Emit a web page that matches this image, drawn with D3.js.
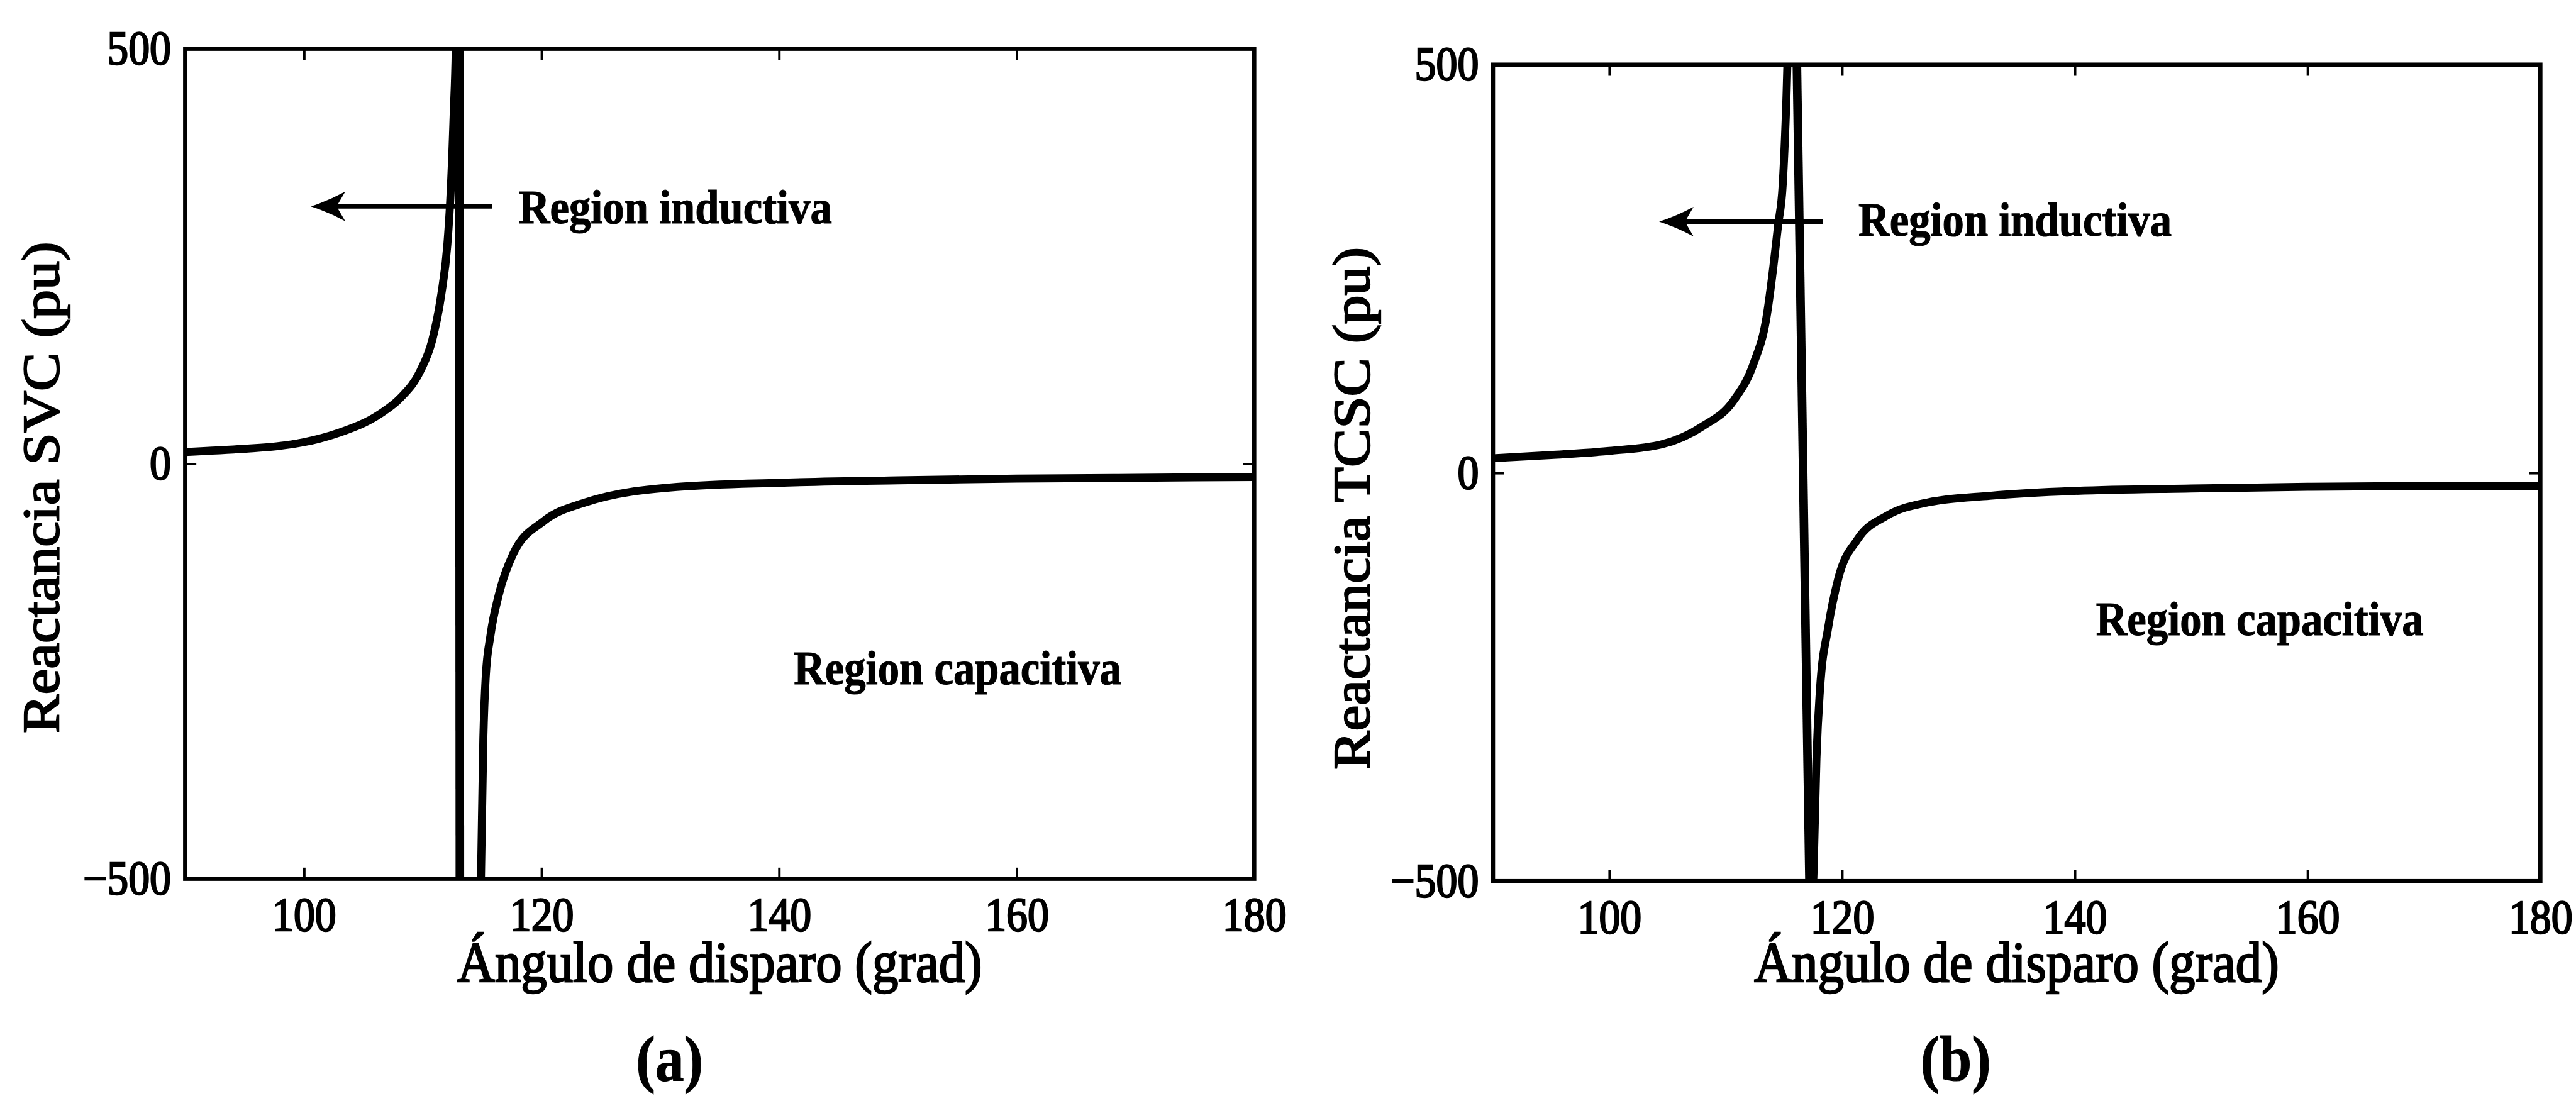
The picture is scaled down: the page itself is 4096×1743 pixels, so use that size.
<!DOCTYPE html>
<html>
<head>
<meta charset="utf-8">
<script src="https://cdn.jsdelivr.net/npm/d3@7"></script>
<style>
  html, body { margin: 0; padding: 0; background: #fff; overflow: hidden; }
  svg { display: block; }
  text { font-family: "Liberation Serif", "Times New Roman", serif; fill: #000; }
  .heavy { stroke: #000; stroke-width: 2.6px; }
  .heavy-s { stroke: #000; stroke-width: 1.2px; }
</style>
</head>
<body>
<svg id="fig"></svg>
<script>
// Firing angle (degrees) and reactance (pu), SVC
const svcAngle = [90, 95, 97.7, 100, 102.9, 106.4, 108.1, 109.8, 110.8, 111.55, 112.07, 112.3, 112.6, 112.8, 112.95,
                  113.25, 114.0, 114.5, 114.9, 115.1, 115.3, 115.7, 116.4, 117.6, 120.2, 123.6, 131.4, 140, 150, 160, 170, 180];
const svcReact = [14, 18, 21, 26, 37, 60, 79, 112, 149, 203, 264, 314, 420, 520, 3000,
                  -3000, -1100, -720, -500, -331, -257, -207, -158, -109, -69, -47, -28, -23, -20, -18, -17, -16];

// Firing angle (degrees) and reactance (pu), TCSC
const tcscAngle = [90, 95, 100, 104.5, 108.0, 110.7, 112.4, 113.5, 114.1, 114.5, 114.9, 115.2, 115.4, 116.0,
                   117.3, 117.55, 117.8, 118.1, 118.8, 119.7, 121.3, 123.9, 127.4, 132.7, 140, 150, 160, 170, 180];
const tcscReact = [18, 22, 27, 35, 57, 89, 134, 190, 253, 303, 353, 450, 540, 611,
                   -593, -490, -350, -266, -190, -128, -82, -52, -36, -28, -22, -19, -17, -16, -16];

const xTicks = [100, 120, 140, 160, 180];
const yTicks = [-500, 0, 500];
const xDomain = [90, 180];
const yDomain = [-500, 500];

const xTitle = "Ángulo de disparo (grad)";
const yTitles = ["Reactancia SVC (pu)", "Reactancia TCSC (pu)"];
const panelTags = ["(a)", "(b)"];
const regionNames = ["Region inductiva", "Region capacitiva"];

// Figure canvas (drawn at full size, scaled to the window by the viewBox)
const W = 4186, H = 1781;
const svg = d3.select("#fig")
  .attr("width", 4096).attr("height", 1743)
  .attr("viewBox", `0 0 ${W} ${H}`);
svg.append("rect").attr("width", W).attr("height", H).attr("fill", "#fff");

// Typeset: the serif faces are set slightly narrow
const SQX = 0.9;
const TICK_FONT = 77, TITLE_FONT = 94, NOTE_FONT = 78, TAG_FONT = 104;

const panels = [
  { id: "svc",  angle: svcAngle,  react: svcReact,  yTitle: yTitles[0], tag: panelTags[0],
    box: { left: 301, right: 2038, top: 79, bottom: 1428 },
    yTitleX: 95, yTitleY: 792, tagX: 1088,
    arrow: { y: 310, from: 115.85, to: 100.57 },
    ind: { x: 118.08, y: 290 }, cap: { x: 141.24, y: -265.7 } },
  { id: "tcsc", angle: tcscAngle, react: tcscReact, yTitle: yTitles[1], tag: panelTags[1],
    box: { left: 2426, right: 4128, top: 105, bottom: 1432 },
    yTitleX: 2225, yTitleY: 826, tagX: 3178,
    arrow: { y: 307.8, from: 118.34, to: 104.28 },
    ind: { x: 121.41, y: 290.5 }, cap: { x: 141.82, y: -198.6 } }
];

const defs = svg.append("defs");

panels.forEach(p => {
  const b = p.box;
  const x = d3.scaleLinear().domain(xDomain).range([b.left, b.right]);
  const y = d3.scaleLinear().domain(yDomain).range([b.bottom, b.top]);
  const g = svg.append("g").attr("class", "panel-" + p.id);

  defs.append("clipPath").attr("id", "clip-" + p.id)
    .append("rect")
    .attr("x", b.left).attr("y", b.top)
    .attr("width", b.right - b.left).attr("height", b.bottom - b.top);

  // Split the curve at the pole: two smooth branches joined by the straight jump
  const pts = p.angle.map((a, i) => [a, p.react[i]]);
  const pole = pts.findIndex((d, i) => i < pts.length - 1 && d[1] > 0 && pts[i + 1][1] < 0);
  const branchA = pts.slice(0, pole + 1);
  const branchB = pts.slice(pole + 1);
  const jump = [pts[pole], pts[pole + 1]];

  const smooth = d3.line().x(d => x(d[0])).y(d => y(d[1])).curve(d3.curveMonotoneX);
  const straight = d3.line().x(d => x(d[0])).y(d => y(d[1]));

  const plot = g.append("g").attr("clip-path", `url(#clip-${p.id})`);
  [[branchA, smooth, 13], [jump, straight, 14], [branchB, smooth, 13]].forEach(([data, gen, w]) => {
    plot.append("path")
      .attr("d", gen(data))
      .attr("fill", "none")
      .attr("stroke", "#000")
      .attr("stroke-width", w)
      .attr("stroke-linejoin", "round");
  });

  // Axes: inward ticks on all four sides
  const tickLen = 18;
  const styleAxis = sel => {
    sel.select(".domain").remove();
    sel.selectAll(".tick line").attr("stroke", "#000").attr("stroke-width", 4);
  };
  const styleLabels = sel => sel.selectAll(".tick text")
    .attr("font-size", TICK_FONT).attr("font-family", null)
    .attr("class", "heavy")
    .attr("transform", `scale(${SQX},1)`);

  g.append("g").attr("transform", `translate(0,${b.bottom})`)
    .call(d3.axisBottom(x).tickValues(xTicks).tickSizeInner(-tickLen).tickSizeOuter(0).tickPadding(30).tickFormat(d3.format("d")))
    .call(styleAxis).call(styleLabels);
  g.append("g").attr("transform", `translate(0,${b.top})`)
    .call(d3.axisTop(x).tickValues(xTicks).tickSizeInner(-tickLen).tickSizeOuter(0).tickFormat(""))
    .call(styleAxis);
  g.append("g").attr("transform", `translate(${b.left},0)`)
    .call(d3.axisLeft(y).tickValues(yTicks).tickSizeInner(-tickLen).tickSizeOuter(0).tickPadding(25.6).tickFormat(d3.format("d")))
    .call(styleAxis).call(styleLabels);
  g.append("g").attr("transform", `translate(${b.right},0)`)
    .call(d3.axisRight(y).tickValues(yTicks).tickSizeInner(-tickLen).tickSizeOuter(0).tickFormat(""))
    .call(styleAxis);

  // Frame
  g.append("rect")
    .attr("x", b.left).attr("y", b.top)
    .attr("width", b.right - b.left).attr("height", b.bottom - b.top)
    .attr("fill", "none").attr("stroke", "#000").attr("stroke-width", 7);

  // Axis titles
  g.append("text")
    .attr("class", "heavy")
    .attr("transform", `translate(${(b.left + b.right) / 2},1595) scale(${SQX},1)`)
    .attr("text-anchor", "middle").attr("font-size", TITLE_FONT)
    .text(xTitle);
  g.append("text")
    .attr("class", "heavy")
    .attr("transform", `translate(${p.yTitleX},${p.yTitleY}) rotate(-90) scale(1,${SQX})`)
    .attr("text-anchor", "middle").attr("font-size", TITLE_FONT)
    .text(p.yTitle);

  // Region notes and arrow
  const ay = y(p.arrow.y), tipX = x(p.arrow.to), tailX = x(p.arrow.from);
  g.append("line")
    .attr("x1", tailX).attr("y1", ay).attr("x2", tipX + 40).attr("y2", ay)
    .attr("stroke", "#000").attr("stroke-width", 7);
  g.append("path")
    .attr("transform", `translate(${tipX},${ay})`)
    .attr("d", "M0,0 Q28,-9 56,-24 L42,0 L56,24 Q28,9 0,0 Z")
    .attr("fill", "#000");

  g.append("text")
    .attr("class", "heavy-s")
    .attr("transform", `translate(${x(p.ind.x)},${y(p.ind.y)}) scale(${SQX},1)`)
    .attr("font-size", NOTE_FONT).attr("font-weight", "bold")
    .text(regionNames[0]);
  g.append("text")
    .attr("class", "heavy-s")
    .attr("transform", `translate(${x(p.cap.x)},${y(p.cap.y)}) scale(${SQX},1)`)
    .attr("font-size", NOTE_FONT).attr("font-weight", "bold")
    .text(regionNames[1]);

  // Panel tag
  g.append("text")
    .attr("class", "heavy-s")
    .attr("transform", `translate(${p.tagX},1756) scale(${SQX},1)`)
    .attr("text-anchor", "middle").attr("font-size", TAG_FONT).attr("font-weight", "bold")
    .text(p.tag);
});
</script>
</body>
</html>
